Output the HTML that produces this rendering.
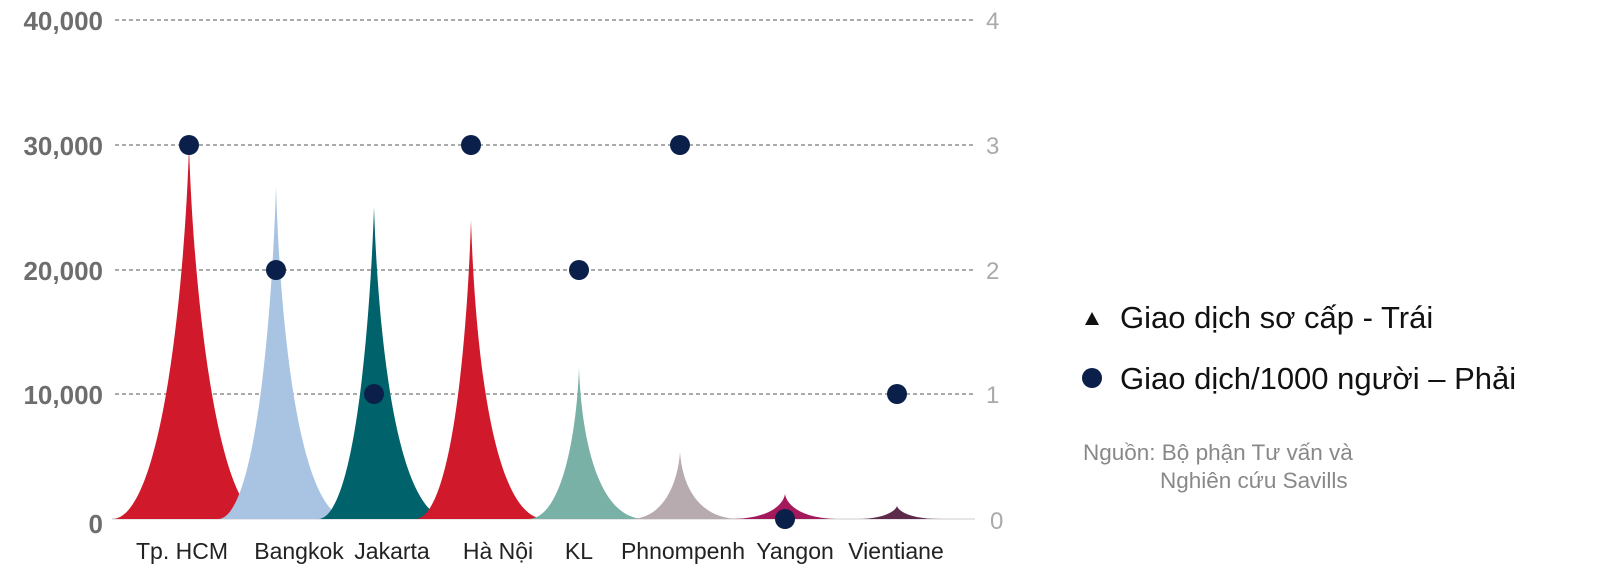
<!DOCTYPE html>
<html><head><meta charset="utf-8"><style>
html,body{margin:0;padding:0;background:#fff;width:1600px;height:580px;overflow:hidden}
svg{display:block}
</style></head><body>
<svg width="1600" height="580" viewBox="0 0 1600 580" xmlns="http://www.w3.org/2000/svg" font-family="Liberation Sans, Arial, sans-serif">
<g stroke="#777" stroke-width="1.2" stroke-dasharray="4,3">
<line x1="115" y1="20" x2="975" y2="20"/>
<line x1="115" y1="145" x2="975" y2="145"/>
<line x1="115" y1="270" x2="975" y2="270"/>
<line x1="115" y1="394" x2="975" y2="394"/>
</g>
<line x1="112" y1="519" x2="975" y2="519" stroke="#ccc" stroke-width="1"/>
<g font-size="26" font-weight="bold" fill="#6d6d6d" text-anchor="end">
<text x="103" y="30">40,000</text>
<text x="103" y="155">30,000</text>
<text x="103" y="280">20,000</text>
<text x="103" y="404">10,000</text>
<text x="103" y="533">0</text>
</g>
<g font-size="24" fill="#aaa" text-anchor="start">
<text x="986" y="29">4</text>
<text x="986" y="154">3</text>
<text x="986" y="279">2</text>
<text x="986" y="403">1</text>
<text x="990" y="529">0</text>
</g>
<g id="peaks">
<path fill="#d0192a" d="M112,519 C165,519 186,258 189,145 C192,258 213,519 266,519 Z"/>
<path fill="#a9c4e2" d="M218,519 C258,519 273,290 276,186 C279,290 294,519 350,519 Z"/>
<path fill="#00636b" d="M318,519 C357,519 371,300 374,207 C377,300 391,519 450,519 Z"/>
<path fill="#d0192a" d="M415,519 C454,519 468,318 471,220 C474,318 488,519 545,519 Z"/>
<path fill="#7ab1a6" d="M528,519 C564,519 577,425 579,368 C581,425 594,519 645,519 Z"/>
<path fill="#b7abb0" d="M630,519 C664,519 678,482 680,452 C682,482 696,519 740,519 Z"/>
<path fill="#a4195c" d="M730,519 C767,519 783,506 785,494 C787,506 803,519 840,519 Z"/>
<path fill="#5e2a4c" d="M858,519 C882,519 895,512 897,506 C899,512 912,519 940,519 Z"/>
</g>
<g fill="#0b1f4b">
<circle cx="189" cy="145" r="10"/>
<circle cx="276" cy="270" r="10"/>
<circle cx="374" cy="394" r="10"/>
<circle cx="471" cy="145" r="10"/>
<circle cx="579" cy="270" r="10"/>
<circle cx="680" cy="145" r="10"/>
<circle cx="785" cy="519" r="10"/>
<circle cx="897" cy="394" r="10"/>
</g>
<g font-size="23" fill="#222" text-anchor="middle">
<text x="182" y="559">Tp. HCM</text>
<text x="299" y="559">Bangkok</text>
<text x="392" y="559">Jakarta</text>
<text x="498" y="559">Hà Nội</text>
<text x="579" y="559">KL</text>
<text x="683" y="559">Phnompenh</text>
<text x="795" y="559">Yangon</text>
<text x="896" y="559">Vientiane</text>
</g>
<polygon points="1085,325 1099,325 1092,312" fill="#111"/>
<text x="1120" y="328" font-size="31" fill="#111">Giao dịch sơ cấp - Trái</text>
<circle cx="1092" cy="378" r="10" fill="#0b1f4b"/>
<text x="1120" y="389" font-size="31" fill="#111">Giao dịch/1000 người – Phải</text>
<text x="1083" y="460" font-size="22.5" fill="#888">Nguồn: Bộ phận Tư vấn và</text>
<text x="1160" y="488" font-size="22.5" fill="#888">Nghiên cứu Savills</text>
</svg>
</body></html>
